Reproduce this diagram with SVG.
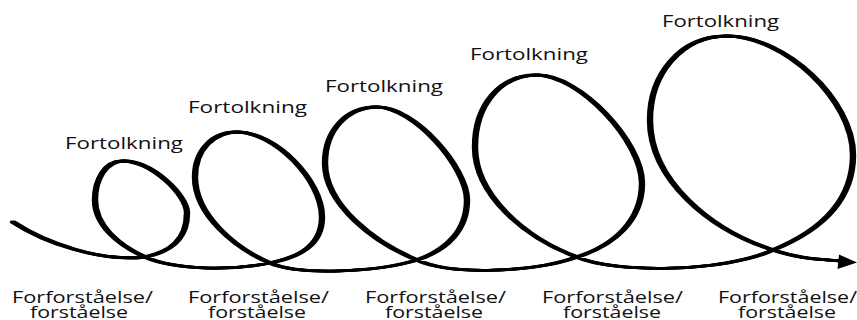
<svg xmlns="http://www.w3.org/2000/svg" xmlns:xlink="http://www.w3.org/1999/xlink" width="857" height="320" viewBox="0 0 857 320">
<style>
  .lbl { font-family: "Open Sans", "Liberation Sans", sans-serif; font-size: 17px; fill: #111; }
  .low { font-family: "Open Sans", "Liberation Sans", sans-serif; font-size: 16px; fill: #111; }
  .ink { fill: none; stroke: #000; stroke-width: 2.8; stroke-linecap: round; stroke-linejoin: round; }
</style>
<defs>
  <path id="curve" class="ink" d="M 13,222 C 45,243 100,262 145,257
    C 170,252 187,240 187,213 C 187,195 152,161 123,161 C 105,161 95,180 95,200 C 95,225 118,245 145,257
    C 175,270 230,271 270,263
    C 300,257 322,245 322,217 C 322,180 275,132 237,132 C 213,132 195,150 195,177 C 195,215 235,248 270,263
    C 300,276 377,272 417,260
    C 447,250 467,230 467,200 C 467,168 415,107 377,107 C 347,107 325,130 325,163 C 325,205 375,243 417,260
    C 452,276 535,272 577,257
    C 615,245 642,220 642,183 C 642,142 580,75 537,75 C 500,75 475,105 475,147 C 475,195 525,238 577,257
    C 615,274 725,272 773,250
    C 815,233 853,205 853,155 C 853,100 785,36 727,36 C 680,36 650,75 650,120 C 650,180 710,230 773,250
    C 800,259 820,259 841,261"/>
</defs>
<g id="connectors">
  <g id="spiral">
    <use xlink:href="#curve" href="#curve" x="-1.8"/>
    <use xlink:href="#curve" href="#curve" x="-0.6"/>
    <use xlink:href="#curve" href="#curve" x="0.6"/>
    <use xlink:href="#curve" href="#curve" x="1.8"/>
  </g>
  <polygon id="arrowhead" points="857,262.5 839,254.5 837.5,269" fill="#000"/>
</g>
<g id="fortolkning-1"><text class="lbl" x="65" y="149" textLength="118" lengthAdjust="spacingAndGlyphs">Fortolkning</text></g>
<g id="fortolkning-2"><text class="lbl" x="188" y="113" textLength="119" lengthAdjust="spacingAndGlyphs">Fortolkning</text></g>
<g id="fortolkning-3"><text class="lbl" x="325" y="92" textLength="118" lengthAdjust="spacingAndGlyphs">Fortolkning</text></g>
<g id="fortolkning-4"><text class="lbl" x="470" y="60" textLength="118" lengthAdjust="spacingAndGlyphs">Fortolkning</text></g>
<g id="fortolkning-5"><text class="lbl" x="662" y="27" textLength="117" lengthAdjust="spacingAndGlyphs">Fortolkning</text></g>
<g id="forstaaelse-1">
  <text class="low" x="12" y="303" textLength="141" lengthAdjust="spacingAndGlyphs">Forforståelse/</text>
  <text class="low" x="30" y="318" textLength="98" lengthAdjust="spacingAndGlyphs">forståelse</text>
</g>
<g id="forstaaelse-2">
  <text class="low" x="188" y="303" textLength="141" lengthAdjust="spacingAndGlyphs">Forforståelse/</text>
  <text class="low" x="208" y="318" textLength="98" lengthAdjust="spacingAndGlyphs">forståelse</text>
</g>
<g id="forstaaelse-3">
  <text class="low" x="365" y="303" textLength="141" lengthAdjust="spacingAndGlyphs">Forforståelse/</text>
  <text class="low" x="385" y="318" textLength="98" lengthAdjust="spacingAndGlyphs">forståelse</text>
</g>
<g id="forstaaelse-4">
  <text class="low" x="542" y="303" textLength="141" lengthAdjust="spacingAndGlyphs">Forforståelse/</text>
  <text class="low" x="563" y="318" textLength="98" lengthAdjust="spacingAndGlyphs">forståelse</text>
</g>
<g id="forstaaelse-5">
  <text class="low" x="718" y="303" textLength="139" lengthAdjust="spacingAndGlyphs">Forforståelse/</text>
  <text class="low" x="738" y="318" textLength="98" lengthAdjust="spacingAndGlyphs">forståelse</text>
</g>
</svg>
